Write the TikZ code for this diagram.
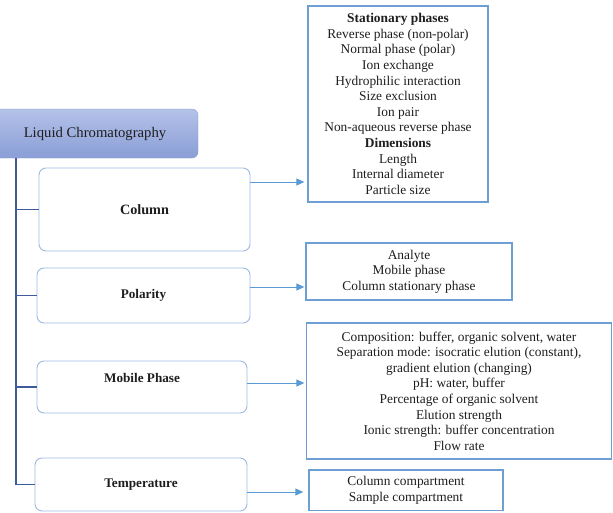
\documentclass[tikz,border=0pt]{standalone}
\usepackage{fontspec}
\setmainfont{Liberation Serif}
\usepackage{tikz}
\usetikzlibrary{arrows.meta, positioning, calc}
\definecolor{lcedge}{HTML}{8C9ED3}
\definecolor{lctop}{HTML}{B4C2E9}
\definecolor{lcbottom}{HTML}{8A9ED6}
\definecolor{trunkblue}{HTML}{3E5C9C}
\definecolor{boxblue}{HTML}{9DB9E1}
\definecolor{listblue}{HTML}{6E9FD4}
\definecolor{arrowblue}{HTML}{5B9BD5}
\definecolor{inkgray}{HTML}{1E1E1E}

\tikzset{
  lctitle/.style={draw=lcedge, top color=lctop, bottom color=lcbottom, rounded corners=6pt,
    minimum width=206pt, minimum height=49pt, inner sep=0pt, text=inkgray,
    font=\fontsize{14.7}{17}\selectfont},
  factor/.style={draw=boxblue, line width=0.9pt, rounded corners=7pt, fill=white, inner sep=0pt,
    text=inkgray, font=\bfseries\fontsize{13.2}{15.6}\selectfont},
  listbox/.style={draw=listblue, line width=1.3pt, inner sep=0pt, align=center, text=inkgray,
    font=\fontsize{13.4}{15.6}\selectfont},
  trunk/.style={draw=trunkblue, line width=1.4pt},
  feed/.style={draw=arrowblue, line width=0.9pt, -{Triangle[length=8pt,width=7pt]}}
}

\begin{document}
\begin{tikzpicture}[x=1pt, y=-1pt]
    \fill[white] (0,0) rectangle (613,512);
    \useasboundingbox (0,0) rectangle (613,512);

    % Title, cut by the left edge
    \node[lctitle] (lc) at (95,133.5) {Liquid Chromatography};

    % Factors
    \node[factor, minimum width=211pt, minimum height=83pt,
      font=\bfseries\fontsize{14.2}{16}\selectfont] (col) at (144.5,209.5) {Column};
    \node[factor, minimum width=213pt, minimum height=55pt] (pol) at (143.5,295.5) {Polarity};
    \node[factor, minimum width=210pt, minimum height=52pt, text depth=18pt] (mob) at (142,387) {Mobile Phase};
    \node[factor, minimum width=212pt, minimum height=53pt] (temp) at (141,484.5) {Temperature};

    % Details
    \node[listbox, minimum width=180pt, minimum height=196pt] (stat) at (398,104)
      {\textbf{Stationary phases}\\Reverse phase (non-polar)\\Normal phase (polar)\\Ion exchange\\
       Hydrophilic interaction\\Size exclusion\\Ion pair\\Non-aqueous reverse phase\\
       \textbf{Dimensions}\\Length\\Internal diameter\\Particle size};
    \node[listbox, minimum width=206pt, minimum height=57pt] (ana) at (409,271.5)
      {Analyte\\Mobile phase\\Column stationary phase};
    \node[listbox, minimum width=305pt, minimum height=136pt] (comp) at (459,391)
      {Composition: buffer, organic solvent, water\\Separation mode: isocratic elution (constant),\\
       gradient elution (changing)\\pH: water, buffer\\Percentage of organic solvent\\
       Elution strength\\Ionic strength: buffer concentration\\Flow rate};
    \node[listbox, minimum width=194pt, minimum height=40.5pt] (cmp) at (406,490.25)
      {Column compartment\\Sample compartment};

    % Trunk and branches
    \coordinate (t0) at ([xshift=24pt]lc.south west);
    \draw[trunk] (t0) |- (temp.west);
    \foreach \f in {col,pol,mob}
      \draw[trunk] (t0 |- \f.west) -- (\f.west);

    % Arrows to the details
    \foreach \f/\g/\dy/\gap in {col/stat/27.5/3, pol/ana/8.5/1, mob/comp/4/1.5, temp/cmp/-7.5/5} {
      \coordinate (\f out) at ([yshift=\dy pt]\f.east);
      \draw[feed, shorten >=\gap pt] (\f out) -- (\f out -| \g.west);
    }
\end{tikzpicture}
\end{document}
